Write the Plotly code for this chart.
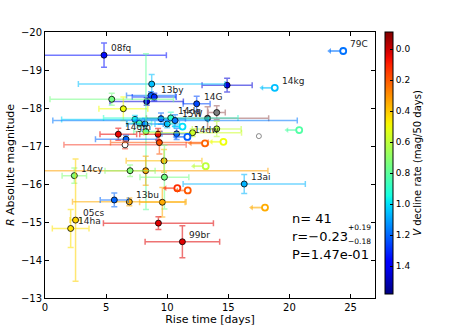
import numpy as np
import plotly.graph_objects as go

# ---------------- data ----------------
rise = [4.83, 14.9, 8.73, 8.67, 8.94, 8.32, 5.46, 6.41, 12.41, 14.05, 13.3, 7.36, 7.72, 8.18, 9.49,
        10.0, 10.29, 10.64, 8.26, 6.0, 6.63, 6.55, 9.36, 9.25, 10.77, 12.08, 14.05, 8.24, 9.74, 2.40,
        6.96, 9.77, 16.3, 9.6, 6.9, 5.67, 2.5, 2.1, 9.28, 11.24]
rise_err = [5.1, 2.05, 6.0, 2.0, 1.8, 3.0, 5.05, 2.0, 1.1, 0.7, 5.0, 6.0, 1.0, 1.5, 2.0,
            1.0, 5.5, 10.0, 1.0, 1.5, 2.5, 5.0, 4.0, 1.5, 1.2, 4.0, 2.0, 10.0, 3.1, 1.0,
            2.05, 2.0, 5.0, 1.86, 4.65, 1.15, 0.45, 1.5, 4.5, 3.05]
mag = [-19.39, -18.6, -18.63, -18.33, -18.29, -18.17, -18.23, -17.98, -18.11, -17.88, -17.73, -17.70,
       -17.60, -17.58, -17.72, -17.58, -17.74, -17.67, -17.38, -17.31, -17.18, -17.03, -17.09, -17.31,
       -17.32, -17.35, -17.45, -16.35, -16.61, -16.22, -16.35, -16.18, -16.0, -15.52, -15.53, -15.58,
       -15.05, -14.83, -14.97, -14.48]
mag_err = [0.32, 0.18, 0.25, 0.1, 0.1, 0.1, 0.16, 0.31, 0.2, 0.18, 0.3, 0.1, 0.1, 0.15, 0.15,
           0.1, 0.15, 0.15, 2.05, 0.16, 0.1, 0.1, 0.3, 0.15, 0.15, 0.1, 0.2, 0.38, 0.3, 0.2,
           0.15, 0.84, 0.25, 0.39, 0.1, 0.18, 1.61, 0.5, 0.17, 0.42]
decline = [1.35, 1.45, 1.05, 1.2, 1.3, 1.45, 0.75, 0.5, 1.25, None, None, 1.0, 0.85, 1.15, 1.2,
           1.05, 0.9, 1.17, 0.8, 0.05, 1.2, None, 0.19, 0.05, 1.2, 0.57, 0.6, 0.33, 0.38, 0.72,
           0.72, 0.75, 1.07, 0.35, 0.35, 1.2, 0.42, 0.45, 0.03, 0.03]
names = ['08fq', '', '', '', '13by', '', '', '', '14G', '', '', '', '', '', '',
         '', '14dq', '15W', '', '14gm', '', '', '', '', '', '', '', '', '', '14cy',
         '', '', '13ai', '', '13bu', '', '05cs', '14ha', '', '99br']

# lower limits on rise time (open symbols)
lim_rise = [24.4, 18.8, 11.25, 11.65, 13.09, 14.6, 17.5, 20.8, 13.15, 10.83, 11.68, 18.0]
lim_mag = [-19.5, -18.53, -17.51, -17.24, -17.07, -17.11, -17.26, -17.42, -16.47, -15.89, -15.83, -15.38]
lim_arrow = [1.1, 1.05, 0.7, 1.0, 1.2, 1.0, 0.0, 1.0, 1.0, 1.0, 0.9, 1.1]
lim_decline = [1.18, 1.05, 1.0, 1.22, 0.22, 0.5, None, 0.82, 0.6, 0.12, 0.2, 0.35]
lim_names = ['79C', '14kg', '', '14dw', '', '', '', '', '', '', '', '']

cbar_ticks = [0.0, 0.2, 0.4, 0.6, 0.8, 1.0, 1.2, 1.4]
stat_n, stat_r, stat_rp, stat_rm, stat_p = 41, -0.23, 0.19, 0.18, 1.47e-01

# ---------------- styling ----------------
RATE_MIN, RATE_MAX = -0.11, 1.58
CMIN, CMAX = -RATE_MAX, -RATE_MIN

JET = {
    'r': [(0, 0), (0.35, 0), (0.66, 1), (0.89, 1), (1, 0.5)],
    'g': [(0, 0), (0.125, 0), (0.375, 1), (0.64, 1), (0.91, 0), (1, 0)],
    'b': [(0, 0.5), (0.11, 1), (0.34, 1), (0.65, 0), (1, 0)],
}


def jet(t):
    t = min(max(t, 0), 1)
    out = []
    for ch in 'rgb':
        xs, ys = zip(*JET[ch])
        out.append(int(round(255 * np.interp(t, xs, ys))))
    return out


colorscale = [[float(s), 'rgb(%d,%d,%d)' % tuple(jet(s))] for s in np.linspace(0, 1, 41)]


def rate_rgb(r):
    return jet((-r - CMIN) / (CMAX - CMIN))


def rgba(c, a):
    return 'rgba(%d,%d,%d,%s)' % (c[0], c[1], c[2], a)


NAN_STYLE = {9: ((128, 128, 128), (188, 143, 143)),
             10: ((80, 95, 95), (188, 143, 143)),
             21: ((255, 255, 255), (250, 128, 114))}

FONT = 'DejaVu Sans'
LABEL_FONT = dict(size=9, color='#222', family=FONT)
fig = go.Figure()
annotations = []

for i in range(len(rise)):
    if decline[i] is None:
        mc, ec = NAN_STYLE.get(i, ((128, 128, 128), (160, 160, 160)))
        mcol, ecol = rgba(mc, 1), rgba(ec, 0.8)
    else:
        c = rate_rgb(decline[i])
        mcol, ecol = rgba(c, 1), rgba(c, 0.55)
    fig.add_trace(go.Scatter(
        x=[rise[i]], y=[mag[i]], mode='markers',
        marker=dict(size=6, color=mcol, line=dict(color='black', width=0.8)),
        error_x=dict(type='data', array=[rise_err[i]], color=ecol, thickness=1.5, width=3),
        error_y=dict(type='data', array=[mag_err[i]], color=ecol, thickness=1.5, width=3),
        showlegend=False, hoverinfo='skip'))
    if names[i]:
        annotations.append(dict(x=rise[i], y=mag[i], xref='x', yref='y', text=names[i],
                                showarrow=False, xanchor='left', yanchor='middle',
                                xshift=5, yshift=7, font=LABEL_FONT))

for i in range(len(lim_rise)):
    if lim_decline[i] is None:
        c = (110, 110, 110)
        size, lw = 5, 0.8
    else:
        c = rate_rgb(lim_decline[i])
        size, lw = 6, 1.8
    fig.add_trace(go.Scatter(
        x=[lim_rise[i]], y=[lim_mag[i]], mode='markers',
        marker=dict(size=size, color='white', line=dict(color=rgba(c, 1), width=lw)),
        error_x=dict(type='data', symmetric=False, array=[0], arrayminus=[lim_arrow[i]],
                     color=rgba(c, 0.6), thickness=1.8, width=0),
        showlegend=False, hoverinfo='skip'))
    if lim_arrow[i] > 0:
        fig.add_trace(go.Scatter(
            x=[lim_rise[i] - lim_arrow[i]], y=[lim_mag[i]], mode='markers',
            marker=dict(symbol='triangle-left', size=5, color=rgba(c, 0.6)),
            showlegend=False, hoverinfo='skip'))
    if lim_names[i]:
        annotations.append(dict(x=lim_rise[i], y=lim_mag[i], xref='x', yref='y', text=lim_names[i],
                                showarrow=False, xanchor='left', yanchor='middle',
                                xshift=5, yshift=7, font=LABEL_FONT))

# colorbar carrier
fig.add_trace(go.Scatter(
    x=[-50], y=[-50], mode='markers', showlegend=False, hoverinfo='skip',
    marker=dict(color=[CMIN], cmin=CMIN, cmax=CMAX, colorscale=colorscale, showscale=True,
                colorbar=dict(x=1.03, xanchor='left', xpad=0, y=1, yanchor='top', ypad=0,
                              len=0.985, lenmode='fraction', thickness=8,
                              outlinecolor='black', outlinewidth=1,
                              tickvals=[-v for v in cbar_ticks],
                              ticktext=['%.1f' % v for v in cbar_ticks],
                              ticks='inside', ticklen=3, tickcolor='black',
                              tickfont=dict(size=9, family=FONT, color='black'),
                              title=dict(text='<i>V</i> decline rate (mag/50 days)', side='right',
                                         font=dict(size=10, family=FONT, color='black'))))))

stat_font = dict(size=13, family=FONT, color='black')
small_font = dict(size=7.5, family=FONT, color='black')
annotations += [
    dict(x=0.742, y=0.30, xref='paper', yref='paper', text='n= %d' % stat_n, showarrow=False,
         xanchor='left', yanchor='middle', font=stat_font),
    dict(x=0.742, y=0.233, xref='paper', yref='paper', text='r=%s' % ('%.2f' % stat_r).replace('-', '\u2212'),
         showarrow=False, xanchor='left', yanchor='middle', font=stat_font),
    dict(x=0.912, y=0.264, xref='paper', yref='paper', text='+%.2f' % stat_rp, showarrow=False,
         xanchor='left', yanchor='middle', font=small_font),
    dict(x=0.912, y=0.212, xref='paper', yref='paper', text='\u2212%.2f' % stat_rm, showarrow=False,
         xanchor='left', yanchor='middle', font=small_font),
    dict(x=0.742, y=0.165, xref='paper', yref='paper', text='P=%.2e' % stat_p, showarrow=False,
         xanchor='left', yanchor='middle', font=stat_font),
]

axis_common = dict(showgrid=False, zeroline=False, showline=True, linecolor='black', linewidth=1,
                   mirror='ticks', ticks='inside', ticklen=4, tickcolor='black', automargin=False,
                   tickfont=dict(size=10, family=FONT, color='black'))
fig.update_layout(
    width=458, height=327, margin=dict(l=45, r=83, t=32, b=29),
    paper_bgcolor='white', plot_bgcolor='white', showlegend=False,
    xaxis=dict(range=[0, 27], tickvals=[0, 5, 10, 15, 20, 25],
               title=dict(text='Rise time [days]', font=dict(size=11, family=FONT, color='black'), standoff=2),
               **axis_common),
    yaxis=dict(range=[-13, -20], tickvals=[-20, -19, -18, -17, -16, -15, -14, -13],
               title=dict(text='<i>R</i> Absolute magnitude', font=dict(size=11, family=FONT, color='black'), standoff=4),
               **axis_common),
    annotations=annotations,
)

fig.write_html('out.html', config={'displayModeBar': False},
               post_script="document.body.style.margin='0';document.body.style.overflow='hidden';")
